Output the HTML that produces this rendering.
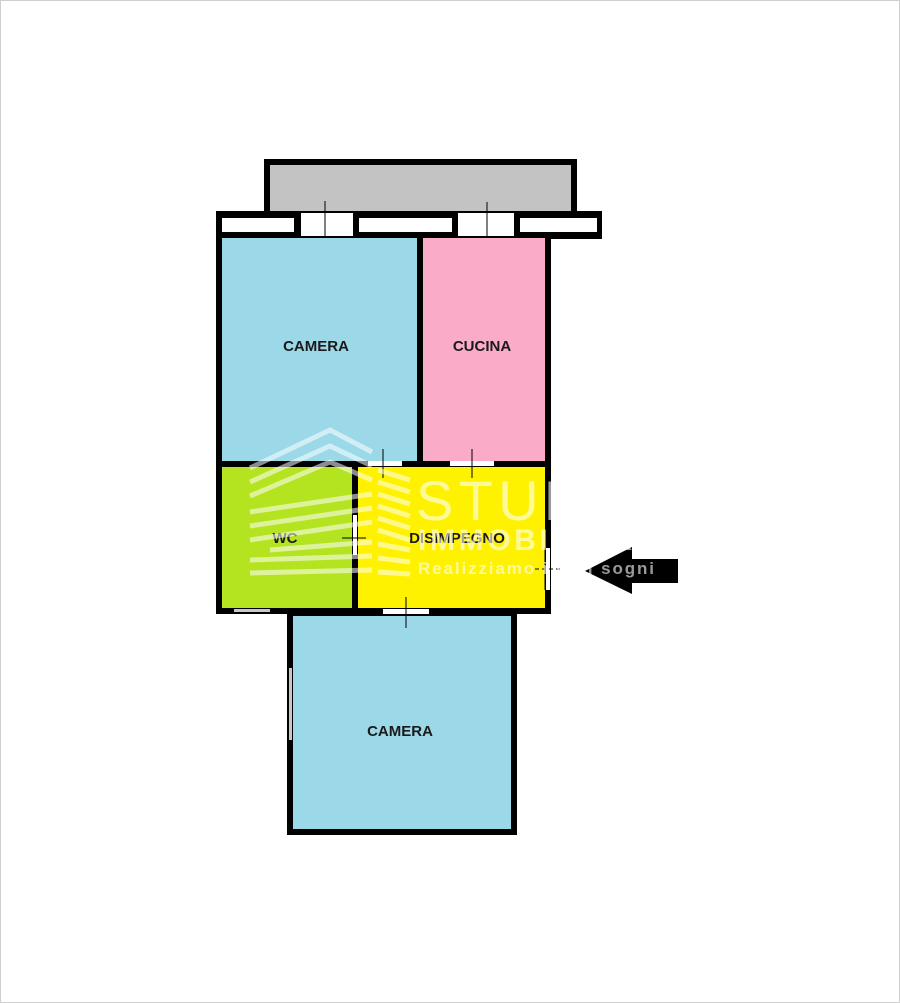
<!DOCTYPE html>
<html><head><meta charset="utf-8"><style>
html,body{margin:0;padding:0;background:#fff;}
svg{display:block;}
text{font-family:"Liberation Sans",sans-serif;}
</style></head><body>
<svg width="900" height="1003" viewBox="0 0 900 1003" xmlns="http://www.w3.org/2000/svg">
<rect x="0.5" y="0.5" width="899" height="1002" fill="#fff" stroke="#cfcfcf"/>
<rect x="264" y="159" width="313" height="56" fill="#000"/>
<rect x="270" y="165" width="301" height="46" fill="#c3c3c3"/>
<rect x="216" y="211" width="386" height="28" fill="#000"/>
<rect x="222" y="218" width="72" height="14" fill="#fff"/>
<rect x="301" y="213" width="52" height="24" fill="#fff"/>
<rect x="359" y="218" width="93" height="14" fill="#fff"/>
<rect x="458" y="213" width="56" height="24" fill="#fff"/>
<rect x="520" y="218" width="77" height="14" fill="#fff"/>
<line x1="325" y1="201" x2="325" y2="255" stroke="#000" stroke-width="1"/>
<line x1="487" y1="202" x2="487" y2="254" stroke="#000" stroke-width="1"/>
<rect x="216" y="236" width="335" height="378" fill="#000"/>
<rect x="222" y="238" width="195" height="223" fill="#9bd9e8"/>
<rect x="423" y="238" width="122" height="223" fill="#f9abc8"/>
<rect x="222" y="467" width="130" height="141" fill="#b4e31f"/>
<rect x="358" y="467" width="187" height="141" fill="#fff200"/>
<rect x="368" y="461" width="34" height="5" fill="#fff"/>
<rect x="450" y="461" width="44" height="5" fill="#fff"/>
<line x1="383" y1="449" x2="383" y2="478" stroke="#000" stroke-width="1"/>
<line x1="472" y1="449" x2="472" y2="478" stroke="#000" stroke-width="1"/>
<rect x="353" y="515" width="4" height="40" fill="#fff"/>
<line x1="342" y1="538" x2="366" y2="538" stroke="#000" stroke-width="1"/>
<rect x="546" y="548" width="4" height="42" fill="#fff"/>
<line x1="545" y1="548" x2="545" y2="590" stroke="#000" stroke-width="1"/>
<line x1="535" y1="569" x2="562" y2="569" stroke="#000" stroke-width="1" stroke-dasharray="4,3"/>
<rect x="234" y="609" width="36" height="3" fill="#c8c8c8"/>
<rect x="287" y="612" width="230" height="223" fill="#000"/>
<rect x="293" y="616" width="218" height="213" fill="#9bd9e8"/>
<rect x="289" y="668" width="3" height="72" fill="#c8c8c8"/>
<rect x="383" y="609" width="46" height="5" fill="#fff"/>
<line x1="406" y1="597" x2="406" y2="628" stroke="#000" stroke-width="1"/>
<polygon points="585,571 632,547 632,559 678,559 678,583 632,583 632,594" fill="#000"/>
<g font-weight="bold" font-size="15" fill="#1a1a1a" text-anchor="middle">
<text x="316" y="351">CAMERA</text>
<text x="482" y="351">CUCINA</text>
<text x="285" y="543">WC</text>
<text x="457" y="543">DISIMPEGNO</text>
<text x="400" y="736">CAMERA</text>
</g>
<g fill="none" stroke="#fff" stroke-opacity="0.55" stroke-width="5">
<polyline points="250,468 330,430 372,452"/>
<polyline points="250,482 330,446 372,466"/>
<polyline points="250,496 330,462 372,480"/>
<polyline points="250,512 372,494"/>
<polyline points="250,526 372,508"/>
<polyline points="250,540 372,522"/>
<polyline points="270,550 372,542"/>
<polyline points="250,560 372,556"/>
<polyline points="250,573 372,570"/>
<polyline points="378,470 410,480"/>
<polyline points="378,482 410,492"/>
<polyline points="378,494 410,504"/>
<polyline points="378,506 410,516"/>
<polyline points="378,518 410,528"/>
<polyline points="378,530 410,540"/>
<polyline points="378,544 410,550"/>
<polyline points="378,558 410,562"/>
<polyline points="378,572 410,574"/>
</g>
<g fill="#fff" fill-opacity="0.6">
<text x="416" y="520" font-size="56" font-weight="normal" letter-spacing="2" textLength="240">STUDIO</text>
<text x="418" y="550" font-size="30" font-weight="bold" textLength="238">IMMOBILIARE</text>
<text x="418" y="574" font-size="17" font-weight="bold" textLength="236">Realizziamo i tuoi sogni</text>
</g>
</svg>
</body></html>
